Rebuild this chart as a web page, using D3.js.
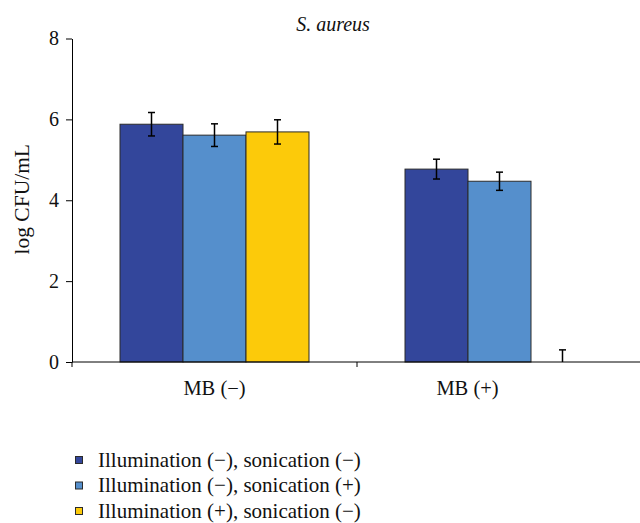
<!DOCTYPE html>
<html>
<head>
<meta charset="utf-8">
<script src="https://cdn.jsdelivr.net/npm/d3@7"></script>
<style>
  body { margin: 0; background: #fff; }
  text { font-family: "Liberation Serif", "DejaVu Serif", serif; fill: #111; }
</style>
</head>
<body>
<div id="canvas"></div>
<script>
// Data
var categories = ["MB (\u2212)", "MB (+)"]
var series_names = ["Illumination (\u2212), sonication (\u2212)",
                    "Illumination (\u2212), sonication (+)",
                    "Illumination (+), sonication (\u2212)"]
var series_values = [[5.88, 4.77], [5.61, 4.47], [5.69, 0]]
var series_errors = [[0.29, 0.245], [0.28, 0.225], [0.30, 0.30]]
var y_ticks = [0, 2, 4, 6, 8]
var title_text = "S. aureus"
var y_label_text = "log CFU/mL"

// Display variables
var total_width = 640, total_height = 523
var margin = {top: 38.5, left: 72, right: -2, bottom: 161}
var width = total_width - margin.left - margin.right
var height = total_height - margin.top - margin.bottom
var colours = ["#33469b", "#558fcc", "#fcca0a"]
var font_size = 20

var svg_outer = d3.select("#canvas").append("svg").attr("width", total_width).attr("height", total_height)
var svg = svg_outer.append("g").attr("transform", "translate(" + margin.left + "," + margin.top + ")")

// Scales
var x = d3.scaleBand().domain(categories).range([0, width])
var x_sub = d3.scaleBand().domain(d3.range(series_names.length)).range([0, x.bandwidth()]).paddingOuter(0.762)
var y = d3.scaleLinear().domain([0, 8]).range([height, 0])

// Bars
var rows = []
series_values.forEach((vals, s) => vals.forEach((v, i) => rows.push({s: s, cat: categories[i], v: v, e: series_errors[s][i]})))

svg.selectAll(".bar")
    .data(rows.filter(d => d.v > 0))
    .enter().append("rect")
    .attr("class", "bar")
    .attr("x", d => x(d.cat) + x_sub(d.s))
    .attr("width", x_sub.bandwidth())
    .attr("y", d => y(d.v))
    .attr("height", d => y(0) - y(d.v))
    .attr("fill", d => colours[d.s])
    .attr("stroke", "#2b2b2b")
    .attr("stroke-width", 1)

// Error bars
var cap = 3.5
var err = svg.selectAll(".err").data(rows).enter().append("g").attr("class", "err")
    .attr("stroke", "#000").attr("stroke-width", 1.5)
err.append("line")
    .attr("x1", d => x(d.cat) + x_sub(d.s) + x_sub.bandwidth() / 2)
    .attr("x2", d => x(d.cat) + x_sub(d.s) + x_sub.bandwidth() / 2)
    .attr("y1", d => y(Math.max(0, d.v - d.e)))
    .attr("y2", d => y(d.v + d.e))
err.selectAll(".capline")
    .data(d => d.v > 0 ? [d.v + d.e, d.v - d.e].map(val => ({d: d, val: val})) : [{d: d, val: d.v + d.e}])
    .enter().append("line")
    .attr("x1", c => x(c.d.cat) + x_sub(c.d.s) + x_sub.bandwidth() / 2 - cap)
    .attr("x2", c => x(c.d.cat) + x_sub(c.d.s) + x_sub.bandwidth() / 2 + cap)
    .attr("y1", c => y(c.val))
    .attr("y2", c => y(c.val))

// Y axis
var y_axis = svg.append("g")
    .call(d3.axisLeft(y).tickValues(y_ticks).tickSize(6).tickSizeOuter(0).tickPadding(7))
y_axis.select(".domain").attr("stroke", "#000")
y_axis.selectAll(".tick line").attr("stroke", "#000")
y_axis.selectAll(".tick text").style("font-size", font_size + "px").attr("fill", "#111")
    .style("font-family", "Liberation Serif")

// X axis: line along zero, ticks at category boundaries
svg.append("line")
    .attr("x1", 0).attr("x2", width)
    .attr("y1", y(0)).attr("y2", y(0))
    .attr("stroke", "#000").attr("stroke-width", 1)
svg.selectAll(".xtick")
    .data(categories)
    .enter().append("line")
    .attr("x1", d => x(d)).attr("x2", d => x(d))
    .attr("y1", y(0)).attr("y2", y(0) + 5)
    .attr("stroke", "#000")
svg.selectAll(".xlabel")
    .data(categories)
    .enter().append("text")
    .attr("class", "xlabel")
    .attr("x", d => x(d) + x.bandwidth() / 2)
    .attr("dx", (d, i) => i === 1 ? -32 : 0)
    .attr("y", y(0) + 33)
    .attr("text-anchor", "middle")
    .style("font-size", "20.5px")
    .text(d => d)

// Title
svg_outer.append("text")
    .attr("x", 333).attr("y", 31)
    .attr("text-anchor", "middle")
    .style("font-style", "italic")
    .style("font-size", font_size + "px")
    .text(title_text)

// Y label
svg_outer.append("text")
    .attr("transform", "translate(29," + (margin.top + y(4) - 1) + ") rotate(-90)")
    .attr("text-anchor", "middle")
    .style("font-size", "21.5px")
    .text(y_label_text)

// Legend
var legend = svg_outer.selectAll(".legend")
    .data(series_names)
    .enter().append("g")
    .attr("class", "legend")
    .attr("transform", (d, i) => "translate(75," + (460 + i * 25.5) + ")")
legend.append("rect")
    .attr("x", 0.5).attr("y", -3.5)
    .attr("width", 7).attr("height", 7)
    .attr("fill", (d, i) => colours[i])
    .attr("stroke", "#2b2b2b").attr("stroke-width", 1)
legend.append("text")
    .attr("x", 23).attr("y", 6.5)
    .style("font-size", "21px")
    .text(d => d)
</script>
</body>
</html>
